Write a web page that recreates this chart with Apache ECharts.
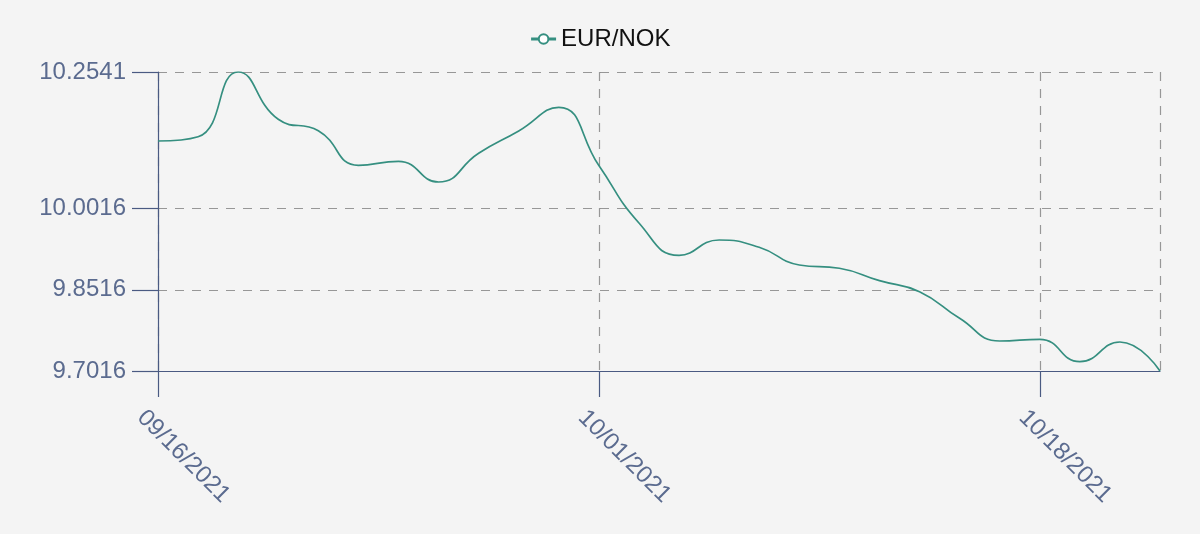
<!DOCTYPE html>
<html>
<head>
<meta charset="utf-8">
<script src="https://cdn.jsdelivr.net/npm/echarts@6/dist/echarts.min.js"></script>
<style>
html,body{margin:0;padding:0;background:#f4f4f4;}
#chart{width:1200px;height:534px;}
</style>
</head>
<body>
<div id="chart"></div>
<script>
const categories = [
  '09/16/2021','09/17/2021','09/20/2021','09/21/2021','09/22/2021','09/23/2021','09/24/2021',
  '09/27/2021','09/28/2021','09/29/2021','09/30/2021','10/01/2021',
  '10/04/2021','10/05/2021','10/06/2021','10/07/2021','10/08/2021',
  '10/11/2021','10/12/2021','10/13/2021','10/14/2021','10/15/2021',
  '10/18/2021','10/19/2021','10/20/2021','10/21/2021'
];
const eurNok = [
  10.1266, 10.1345, 10.2541, 10.1667, 10.1456, 10.0817, 10.0891,
  10.0508, 10.1039, 10.1451, 10.1889, 10.0813,
  9.9751, 9.9154, 9.9437, 9.9302, 9.8975,
  9.8914, 9.8685, 9.8481, 9.7990, 9.7570,
  9.7602, 9.7188, 9.7552, 9.7016
];
const yTicks = [9.7016, 9.8516, 10.0016, 10.2541];
const seriesName = 'EUR/NOK';

const FONT = '"Liberation Sans", Arial, Helvetica, sans-serif';
const axisColor = '#4a5a82';
const labelColor = '#5b6b8f';
const splitStyle = { color: 'rgba(0,0,0,0.38)', type: [9, 8], width: 1.2 };
const lineColor = '#358f80';

const chart = echarts.init(document.getElementById('chart'));
chart.setOption({
  backgroundColor: '#f4f4f4',
  animation: false,
  textStyle: { fontFamily: FONT },
  legend: {
    top: 22,
    left: 'center',
    itemWidth: 25,
    itemHeight: 12,
    itemGap: 10,
    textStyle: { fontSize: 24, color: '#111', fontFamily: FONT },
    itemStyle: { borderWidth: 2.5 },
    lineStyle: { width: 3 },
    data: [seriesName]
  },
  grid: { left: 158, right: 40, top: 72, bottom: 163 },
  xAxis: {
    type: 'category',
    data: categories,
    boundaryGap: false,
    axisLine: { show: true, lineStyle: { color: axisColor, width: 1.2 } },
    axisTick: { show: true, interval: 10, length: 26, lineStyle: { color: axisColor, width: 1.2 } },
    axisLabel: {
      interval: 10,
      rotate: -45,
      margin: 26,
      verticalAlign: 'top',
      padding: [12, 0, 0, 0],
      fontSize: 24,
      color: labelColor,
      fontFamily: FONT
    },
    splitLine: {
      show: true,
      interval: function (idx) { return idx % 11 === 0 || idx === categories.length - 1; },
      lineStyle: splitStyle
    }
  },
  yAxis: {
    type: 'value',
    min: yTicks[0],
    max: yTicks[yTicks.length - 1],
    axisLine: { show: true, lineStyle: { color: axisColor, width: 1.2 } },
    axisTick: { show: true, length: 26, customValues: yTicks, lineStyle: { color: axisColor, width: 1.2 } },
    axisLabel: {
      customValues: yTicks,
      margin: 32,
      fontSize: 24,
      color: labelColor,
      fontFamily: FONT,
      formatter: function (v) { return Number(v).toFixed(4); }
    },
    splitLine: { show: true, lineStyle: splitStyle }
  },
  series: [{
    name: seriesName,
    type: 'line',
    data: eurNok,
    smooth: true,
    showSymbol: false,
    symbol: 'emptyCircle',
    symbolSize: 8,
    itemStyle: { color: lineColor },
    lineStyle: { color: lineColor, width: 1.7 }
  }]
});
</script>
</body>
</html>
